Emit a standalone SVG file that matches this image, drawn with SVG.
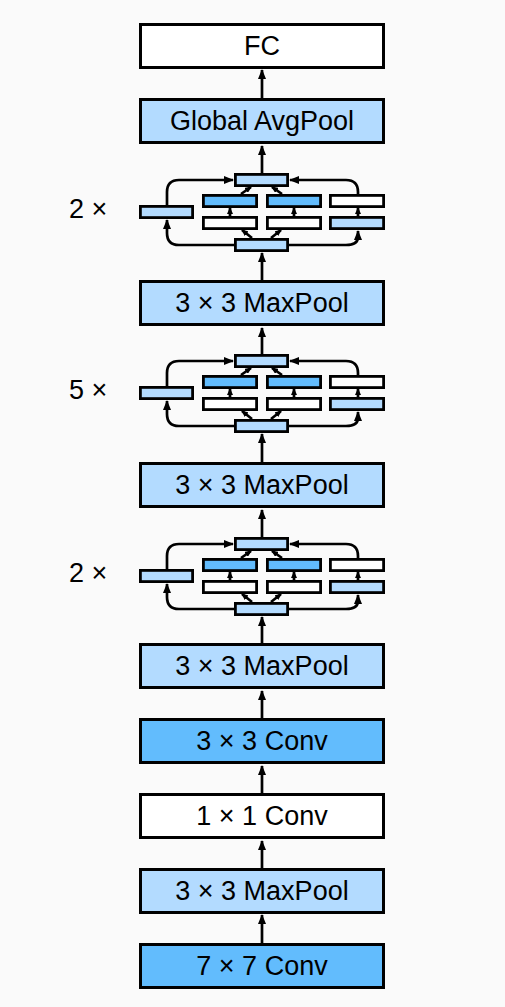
<svg xmlns="http://www.w3.org/2000/svg" width="505" height="1007" viewBox="0 0 505 1007">
<style>
.bg{fill:#fafafa}
.box{stroke:#000;stroke-width:3}
.sb{stroke:#000;stroke-width:2.8}
.w{fill:#ffffff}
.l{fill:#b3dbff}
.d{fill:#62bcfd}
.c{fill:none;stroke:#000;stroke-width:2.7}
.t{font-family:"Liberation Sans",Arial,sans-serif;font-size:27px;fill:#000;text-anchor:middle}
.lab{font-family:"Liberation Sans",Arial,sans-serif;font-size:27px;fill:#000}
</style>
<defs>
<marker id="ah" viewBox="0 0 10 8" refX="9" refY="4" markerWidth="10" markerHeight="8" markerUnits="userSpaceOnUse" orient="auto"><path d="M0,0 L10,4 L0,8 z" fill="#000"/></marker>
<marker id="as" viewBox="0 0 7 6" refX="6" refY="3" markerWidth="7" markerHeight="6" markerUnits="userSpaceOnUse" orient="auto"><path d="M0,0 L7,3 L0,6 z" fill="#000"/></marker>
<g id="blk">
<g class="connectors-inner">
<path class="c" d="M167,32 V19 Q167,7 179,7 H233" marker-end="url(#ah)"/>
<path class="c" d="M358,21 V19 Q358,7 346,7 H290" marker-end="url(#ah)"/>
<path class="c" d="M241,21 L251,14" marker-end="url(#as)"/>
<path class="c" d="M282,21 L272,14" marker-end="url(#as)"/>
<path class="c" d="M230,43 V35" marker-end="url(#as)"/>
<path class="c" d="M294,43 V35" marker-end="url(#as)"/>
<path class="c" d="M358,43 V35" marker-end="url(#as)"/>
<path class="c" d="M252,65 L242,57" marker-end="url(#as)"/>
<path class="c" d="M271,65 L281,57" marker-end="url(#as)"/>
<path class="c" d="M234,72 H179 Q167,72 167,60 V47" marker-end="url(#ah)"/>
<path class="c" d="M289,72 H346 Q358,72 358,64 V58" marker-end="url(#ah)"/>
</g>
<rect class="sb l" x="235.4" y="1.4" width="52.2" height="11.2"/>
<rect class="sb d" x="203.4" y="22.4" width="53.2" height="11.2"/>
<rect class="sb d" x="267.4" y="22.4" width="53.2" height="11.2"/>
<rect class="sb w" x="330.4" y="22.4" width="53.2" height="11.2"/>
<rect class="sb w" x="203.4" y="44.4" width="53.2" height="11.2"/>
<rect class="sb w" x="267.4" y="44.4" width="53.2" height="11.2"/>
<rect class="sb l" x="330.4" y="44.4" width="53.2" height="11.2"/>
<rect class="sb l" x="140.4" y="33.4" width="52.2" height="11.2"/>
<rect class="sb l" x="235.4" y="66.4" width="52.2" height="11.2"/>
</g>
</defs>
<rect class="bg" x="0" y="0" width="505" height="1007"/>
<g id="connectors">
<path class="c" d="M262,98 V70" marker-end="url(#ah)"/>
<path class="c" d="M262,173 V146" marker-end="url(#ah)"/>
<path class="c" d="M262,280 V253" marker-end="url(#ah)"/>
<path class="c" d="M262,354 V328" marker-end="url(#ah)"/>
<path class="c" d="M262,462 V434" marker-end="url(#ah)"/>
<path class="c" d="M262,537 V510" marker-end="url(#ah)"/>
<path class="c" d="M262,643 V617" marker-end="url(#ah)"/>
<path class="c" d="M262,718 V691" marker-end="url(#ah)"/>
<path class="c" d="M262,793 V766" marker-end="url(#ah)"/>
<path class="c" d="M262,868 V841" marker-end="url(#ah)"/>
<path class="c" d="M262,943 V915" marker-end="url(#ah)"/>
</g>
<g id="fc"><rect class="box w" x="140.5" y="24.5" width="243" height="43"/><text class="t" x="262" y="55">FC</text></g>
<g id="gap"><rect class="box l" x="140.5" y="99.5" width="243" height="43"/><text class="t" x="262" y="130">Global AvgPool</text></g>
<g id="inception1"><use href="#blk" transform="translate(0,173)"/><text class="lab" x="69" y="218">2 ×</text></g>
<g id="maxpool4"><rect class="box l" x="140.5" y="281.5" width="243" height="43"/><text class="t" x="262" y="312">3 × 3 MaxPool</text></g>
<g id="inception2"><use href="#blk" transform="translate(0,354)"/><text class="lab" x="69" y="399">5 ×</text></g>
<g id="maxpool3"><rect class="box l" x="140.5" y="463.5" width="243" height="43"/><text class="t" x="262" y="494">3 × 3 MaxPool</text></g>
<g id="inception3"><use href="#blk" transform="translate(0,537)"/><text class="lab" x="69" y="582">2 ×</text></g>
<g id="maxpool2"><rect class="box l" x="140.5" y="644.5" width="243" height="43"/><text class="t" x="262" y="675">3 × 3 MaxPool</text></g>
<g id="conv3"><rect class="box d" x="140.5" y="719.5" width="243" height="43"/><text class="t" x="262" y="750">3 × 3 Conv</text></g>
<g id="conv1"><rect class="box w" x="140.5" y="794.5" width="243" height="43"/><text class="t" x="262" y="825">1 × 1 Conv</text></g>
<g id="maxpool1"><rect class="box l" x="140.5" y="869.5" width="243" height="43"/><text class="t" x="262" y="900">3 × 3 MaxPool</text></g>
<g id="conv7"><rect class="box d" x="140.5" y="944.5" width="243" height="43"/><text class="t" x="262" y="975">7 × 7 Conv</text></g>
</svg>
